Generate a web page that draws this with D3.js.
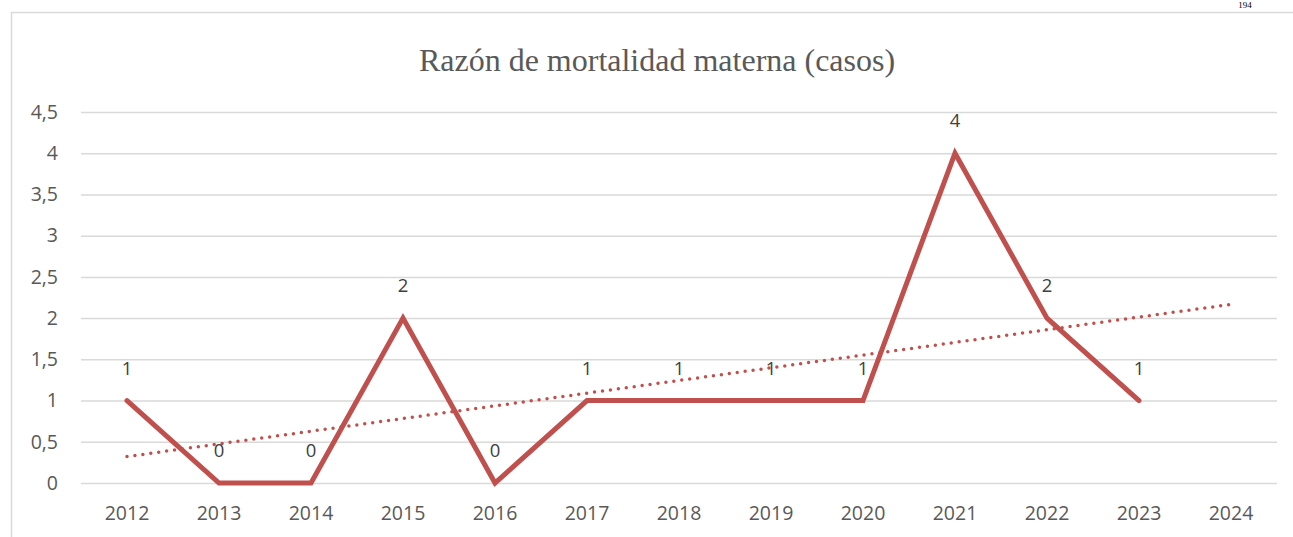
<!DOCTYPE html>
<html><head><meta charset="utf-8">
<script src="https://cdn.jsdelivr.net/npm/d3@7"></script>
<style>body{margin:0;background:#fff}svg{display:block}</style>
</head><body>
<svg id="c" width="1293" height="537"></svg>
<script>
const years = ["2012","2013","2014","2015","2016","2017","2018","2019","2020","2021","2022","2023","2024"];
const values = [1,0,0,2,0,1,1,1,1,4,2,1];
const yTicks = [0,0.5,1,1.5,2,2.5,3,3.5,4,4.5];
const title = "Razón de mortalidad materna (casos)";
const pageNumber = "194";

const svg = d3.select("#c");
const W = 1293, H = 537;
const m = {left:81, right:16, top:112, bottom:54};
const x = d3.scaleBand().domain(years).range([m.left, W - m.right]);
const y = d3.scaleLinear().domain([0,4.5]).range([H - m.bottom, m.top]);
const cx = d => x(d) + x.bandwidth()/2;

// page number
svg.append("text").attr("x",1245).attr("y",8).attr("text-anchor","middle")
  .attr("font-family","Liberation Serif").attr("font-size",9).attr("fill","#000").text(pageNumber);

// chart border
svg.append("rect").attr("x",11.5).attr("y",12.5).attr("width",1300).attr("height",600)
  .attr("fill","none").attr("stroke","#d9d9d9").attr("stroke-width",1.5);

// title
svg.append("text").attr("x",657).attr("y",71).attr("text-anchor","middle")
  .attr("font-family","Liberation Serif").attr("font-size",32).attr("fill","#595959").text(title);

// grid + y axis
const yAxis = d3.axisLeft(y).tickValues(yTicks).tickSize(-(W - m.left - m.right)).tickPadding(23)
  .tickFormat(d => String(d).replace(".", ","));
const gy = svg.append("g").attr("transform",`translate(${m.left},0)`).call(yAxis);
gy.select(".domain").remove();
gy.selectAll(".tick line").attr("stroke","#d9d9d9").attr("stroke-width",1.5);
gy.selectAll(".tick text").attr("font-family","Open Sans").attr("font-size",19.5).attr("fill","#595959");

const xAxis = d3.axisBottom(x).tickSize(0).tickPadding(23);
const gx = svg.append("g").attr("transform",`translate(0,${H - m.bottom})`).call(xAxis);
gx.select(".domain").remove();
gx.selectAll(".tick text").attr("font-family","Open Sans").attr("font-size",19.5).attr("fill","#595959");

// data line
const pts = values.map((v,i)=>({year:years[i], v}));
svg.append("path").datum(pts)
  .attr("d", d3.line().x(d=>cx(d.year)).y(d=>y(d.v)))
  .attr("fill","none").attr("stroke","#C0504D").attr("stroke-width",5)
  .attr("stroke-linejoin","miter").attr("stroke-linecap","round");

// linear trendline (least squares over the series, forecast one period)
const xs = values.map((_,i)=>i+1);
const mx = d3.mean(xs), my = d3.mean(values);
const slope = d3.sum(xs.map((xi,i)=>(xi-mx)*(values[i]-my))) / d3.sum(xs.map(xi=>(xi-mx)**2));
const icpt = my - slope*mx;
const trend = [{year:years[0], v: icpt + slope*1},{year:years[years.length-1], v: icpt + slope*years.length}];
svg.append("path").datum(trend)
  .attr("d", d3.line().x(d=>cx(d.year)).y(d=>y(d.v)))
  .attr("fill","none").attr("stroke","#C0504D").attr("stroke-width",3.5)
  .attr("stroke-dasharray","0 8").attr("stroke-linecap","round");

// data labels
svg.append("g").selectAll("text").data(pts).join("text")
  .attr("x", d=>cx(d.year)).attr("y", d=>y(d.v) - 26)
  .attr("text-anchor","middle").attr("font-family","Open Sans").attr("font-size",18.5)
  .attr("fill","#404040").text(d=>d.v);
</script>
</body></html>
